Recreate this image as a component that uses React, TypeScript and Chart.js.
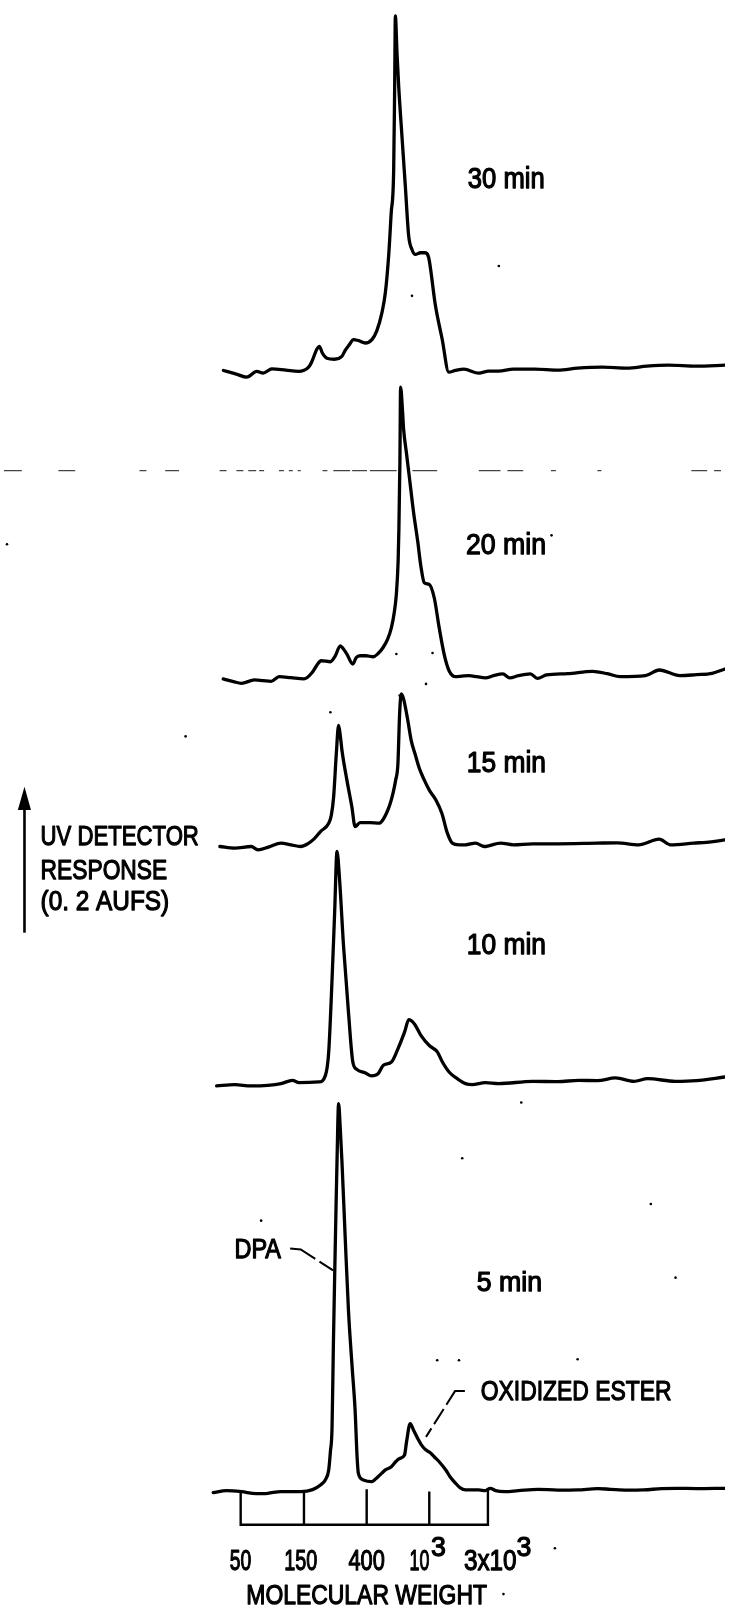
import { useEffect, useRef } from "react";
import { Chart, registerables } from "chart.js";

Chart.register(...registerables);

// Recorder coordinates: x = chart position (elution), y = recorder level (up).
const X_MIN = 0;
const X_MAX = 729;
const Y_MIN = 0;
const Y_MAX = 1616;

// Run times and the baseline level of each trace
const runs = ["30 min", "20 min", "15 min", "10 min", "5 min"];
const runOffsets = [1248, 938, 770, 530, 121];

// Traces: [position, UV detector response above baseline]
const trace30: [number, number][] = [
  [221.9, -0.3], [235, -4], [245.5, -7], [255.7, -1.3], [262, -3], [270.9, 1.3], [285, 0], [297.8, -1.3],
  [308, 3], [311, 8], [316.4, 21.3], [318.8, 24], [322, 17], [326.5, 12], [334, 11], [341.7, 14],
  [345, 20], [348.5, 24.7], [353.5, 30.7], [358.6, 29.7], [365.3, 27.3], [372, 30.7], [377, 39.7],
  [382.2, 58], [385.6, 78], [388.9, 114.7], [391.5, 158], [394, 201.3], [395, 285], [395.7, 356],
  [397.4, 318], [399.1, 284.7], [402.4, 234.7], [405.8, 184.7], [409.2, 134.7], [412.5, 121.3],
  [415.9, 116.3], [421, 118], [426, 118], [429.4, 113], [436.2, 65], [443, 31.3], [449.7, -2],
  [456.4, -0.3], [465, 1], [480, -3], [490, -1], [500, -1], [515, 1], [537, 1], [560, 0], [580, 2],
  [605, 3], [630, 2], [650, 4], [672, 5], [700, 4], [729, 5],
];
const trace20: [number, number][] = [
  [221.7, -0.3], [232, -3], [240, -4.7], [253.3, -1.3], [262, -2], [270, -2.7], [278.3, 2], [290, 1],
  [303.3, -0.3], [311.7, 6.3], [316, 13], [320.7, 18], [330, 17], [335, 23], [340, 33], [343, 30],
  [346.7, 24.7], [352.7, 14.7], [356, 21], [360, 23], [366, 23], [373.3, 22], [378, 25], [383.3, 31.3],
  [388, 40], [391.7, 51.3], [394.5, 66], [396.7, 84.7], [398.5, 118], [399.3, 151.3], [400.3, 218],
  [401, 293], [403, 268], [404, 251.3], [407, 226], [410, 201.3], [414, 168], [418.3, 138],
  [421.5, 113], [425, 96.3], [430, 94.7], [435, 81.3], [440, 51.3], [445, 24.7], [450, 8],
  [456.7, 2], [463, 2.5], [470, 3], [478, 2], [486.7, 0.7], [495, 3], [504.4, 4.7], [511.4, 0.7],
  [520, 3], [532.3, 4.7], [539.3, 0.3], [548.6, 3.7], [570, 5], [595, 7.3], [610, 5], [623, 2],
  [648.5, 3], [662.5, 8.7], [683.4, 3], [700, 4], [716, 5.3], [729, 9.7],
];
const trace15: [number, number][] = [
  [218.3, -0.7], [233.3, -2.3], [250, -0.7], [256.7, -4], [268, -1], [280, 2.7], [290, 1], [300, -0.7],
  [307, 2], [313.3, 6.7], [320, 14.3], [328.3, 22.7], [331, 31], [333.3, 49.3], [336, 92.7],
  [338.3, 121], [340, 111], [341.7, 96], [346.7, 66], [351.7, 39.3], [355, 19.3], [360, 23.3],
  [370, 23.3], [379.3, 22.7], [383, 26], [386.7, 32.7], [390, 41], [393.3, 52.7], [396, 66],
  [398.3, 82.7], [400, 132.7], [401.7, 152.7], [404, 147.7], [408.3, 126], [411.7, 106], [416, 91],
  [420, 77.7], [425, 66], [430, 56], [436.7, 46], [442.7, 32.7], [448.3, 12.7], [453.3, 2.7],
  [460, 1], [466.7, 1], [476.7, 2.7], [485.8, -0.7], [490, 0], [502, 2.7], [515, 1], [534.6, 2],
  [560, 2], [599.7, 2.7], [620, 3], [641.6, 1], [662.5, 6.7], [674.1, 1], [697.3, 2.7], [715, 4], [729, 6],
];
const trace10: [number, number][] = [
  [215, -1.3], [233.3, 0], [250, -1.3], [266.7, -0.7], [280, 1], [291.7, 4.3], [298.3, 2], [318.3, 2.7],
  [325, 9.3], [328.3, 32.7], [331.7, 106], [334.3, 172.7], [336.7, 234.3], [339.3, 206], [343.3, 139.3],
  [348.3, 72.7], [352.7, 22.7], [356.7, 15.3], [365, 12], [371.7, 8.7], [378.3, 11], [383.3, 19.3],
  [391.7, 22.7], [398.3, 36], [405, 52.7], [409.3, 65.3], [415, 61], [421.7, 49.3], [430, 39.3],
  [438.3, 32.7], [443.3, 22.7], [450, 12.7], [458.3, 6], [466.7, 1], [473.3, 0], [486.7, 2], [500, 1],
  [534.6, 3.3], [560, 3], [581.1, 4.3], [600, 4], [618.3, 6.7], [636.9, 3.3], [650.9, 6], [678.8, 3.3],
  [700, 4], [729, 7.7],
];
const trace5: [number, number][] = [
  [211.5, -1], [225, 1], [240, 0], [255, -2], [266.7, -1.7], [280, 0], [300, 0], [312, 2], [320, 6.7],
  [325, 12], [328.3, 21.7], [330, 40], [331.7, 65], [333, 145], [334.3, 215], [335.5, 275],
  [336.7, 331.7], [338.3, 390], [340, 365], [341.7, 331.7], [345, 255], [348.3, 181.7], [352, 125],
  [355, 81.7], [357, 35], [358.3, 18.3], [363.3, 11.7], [371.7, 10], [376, 13], [381.7, 18.3],
  [386, 22], [391.7, 25], [396, 30], [400, 33.3], [405, 36.7], [407, 50], [410.7, 68.3], [414, 62],
  [418.3, 53.3], [422, 47], [426.7, 41.7], [431, 39], [435, 35], [440, 30], [446.7, 21.7], [451, 15],
  [456.7, 8.3], [461, 4], [466.7, 1.7], [480, 1.7], [486.7, 1], [491.7, 3.3], [497, 1], [506.7, 0],
  [520, 1], [540, 2.3], [560, 1.5], [580, 1.7], [600, 3], [613.3, 2.3], [630, 1.5], [646.7, 1.7],
  [665, 3], [680, 3.3], [700, 3], [729, 3.3],
];
const traces = [trace30, trace20, trace15, trace10, trace5];

// Molecular weight calibration scale
const mwTickPos = [239.3, 303.3, 366.7, 430, 489.3];
const mwTickTop = [120, 121, 123.3, 121, 124];
const mwScaleBottom = 87.7;
const mwTickLabels = ["50", "150", "400", "10", "3x10"];
const mwTickSup = ["", "", "", "3", "3"];

// Broken horizontal line across the 20-min record (level and dash extents)
const brokenLineLevel = 1147;
const brokenLineSegs: [number, number][] = [
  [0, 18], [55, 72], [137, 144], [163, 177], [218, 225], [235, 242], [247, 255], [258, 263],
  [278, 283], [288, 292], [297, 300], [322, 327], [333, 350], [352, 367], [370, 397], [413, 438],
  [480, 502], [509, 525], [553, 558], [600, 604], [695, 711], [718, 725],
];

// Leader lines
const dpaLeader: [number, number][] = [[289.3, 365.3], [300, 364.3], [332.7, 343.3]];
const esterLeader: [number, number][] = [[466, 222], [456, 222], [426.7, 176]];

// Response arrow
const arrowShaft: [number, number][] = [[20.7, 682.7], [20.7, 808]];
const arrowHead: [number, number][] = [[14, 806], [20.7, 829.3], [27.3, 806]];

// Specks on the record
const specks: [number, number][] = [
  [396.7, 962.7], [433.3, 963.7], [426.7, 932.7], [400, 921], [412.5, 1322.7], [500.3, 1352.7],
  [183.6, 880], [330, 904.3], [463.3, 456], [260, 393.3], [438, 253], [460, 253], [580, 254],
  [523, 512], [654, 410], [679, 336], [557, 64], [505, 18], [553.6, 1082], [3, 1073],
];

type Label = { text: string; x: number; y: number; w: number; size: number };

function App() {
  const ref = useRef<HTMLCanvasElement>(null);

  useEffect(() => {
    const canvas = ref.current;
    if (!canvas) return;

    const labels: Label[] = [
      { text: runs[0], x: 469, y: 1431, w: 77.7, size: 29 },
      { text: runs[1], x: 467, y: 1063, w: 81, size: 29 },
      { text: runs[2], x: 468, y: 844, w: 80, size: 29 },
      { text: runs[3], x: 468, y: 661, w: 80, size: 29 },
      { text: runs[4], x: 478, y: 323, w: 66, size: 28 },
      { text: "DPA", x: 233, y: 356, w: 47, size: 28 },
      { text: "OXIDIZED ESTER", x: 482, y: 213, w: 193, size: 28 },
      { text: "UV DETECTOR", x: 37, y: 771, w: 160, size: 28 },
      { text: "RESPONSE", x: 37, y: 737, w: 128, size: 28 },
      { text: "(0. 2 AUFS)", x: 37, y: 705, w: 130, size: 28 },
      { text: "MOLECULAR WEIGHT", x: 245, y: 8, w: 243.3, size: 28 },
    ];
    const tickLabelLeft = [228.3, 283.3, 348.3, 410, 465];
    const tickLabelW = [21.7, 33.4, 36.7, 20, 53.3];
    const supLeft = [0, 0, 0, 431.7, 518.3];
    const supW = [0, 0, 0, 15, 15];
    mwTickLabels.forEach((t, i) => {
      labels.push({ text: t, x: tickLabelLeft[i], y: 42, w: tickLabelW[i], size: 29 });
      if (mwTickSup[i]) labels.push({ text: mwTickSup[i], x: supLeft[i], y: 56, w: supW[i], size: 27 });
    });

    const textPlugin = {
      id: "texts",
      afterDraw(chart: any) {
        const ctx = chart.ctx as CanvasRenderingContext2D;
        const xs = chart.scales.x;
        const ys = chart.scales.y;
        ctx.save();
        ctx.fillStyle = "#000";
        ctx.strokeStyle = "#000";
        ctx.lineJoin = "round";
        ctx.textBaseline = "alphabetic";
        ctx.textAlign = "left";
        for (const l of labels) {
          ctx.font = `${l.size}px "Liberation Sans", Arial, sans-serif`;
          const px = xs.getPixelForValue(l.x);
          const py = ys.getPixelForValue(l.y);
          const targetW = xs.getPixelForValue(l.x + l.w) - px;
          const m = ctx.measureText(l.text).width;
          ctx.save();
          ctx.translate(px, py);
          ctx.scale(targetW / m, 1);
          ctx.lineWidth = 1.25;
          ctx.fillText(l.text, 0, 0);
          ctx.strokeText(l.text, 0, 0);
          ctx.restore();
        }
        // arrow head
        ctx.beginPath();
        arrowHead.forEach(([x, y], i) => {
          const px = xs.getPixelForValue(x);
          const py = ys.getPixelForValue(y);
          if (i === 0) ctx.moveTo(px, py);
          else ctx.lineTo(px, py);
        });
        ctx.closePath();
        ctx.fill();
        ctx.restore();
      },
    };

    const line = (pts: [number, number][]) => pts.map(([x, y]) => ({ x, y }));

    const traceSets = traces.map((t, i) => ({
      label: runs[i],
      data: t.map(([x, r]) => ({ x, y: runOffsets[i] + r })),
      borderColor: "#000",
      borderWidth: 3.3,
      pointRadius: 0,
      cubicInterpolationMode: "monotone" as const,
      borderJoinStyle: "round" as const,
      borderCapStyle: "round" as const,
      fill: false,
      order: 1,
    }));

    const brokenData: any[] = [];
    brokenLineSegs.forEach(([a, b], i) => {
      brokenData.push({ x: a, y: brokenLineLevel }, { x: b, y: brokenLineLevel });
      const next = brokenLineSegs[i + 1];
      if (next) brokenData.push({ x: (b + next[0]) / 2, y: null });
    });

    const bracketData: any[] = [
      { x: mwTickPos[0], y: mwTickTop[0] },
      { x: mwTickPos[0], y: mwScaleBottom },
      { x: mwTickPos[4], y: mwScaleBottom },
      { x: mwTickPos[4], y: mwTickTop[4] },
    ];
    for (let i = 1; i < 4; i++) {
      bracketData.push({ x: mwTickPos[i], y: null });
      bracketData.push({ x: mwTickPos[i], y: mwTickTop[i] }, { x: mwTickPos[i], y: mwScaleBottom });
    }

    const chart = new Chart(canvas, {
      type: "line",
      data: {
        datasets: [
          ...traceSets,
          {
            label: "broken line",
            data: brokenData,
            borderColor: "#444",
            borderWidth: 1.2,
            pointRadius: 0,
            spanGaps: false,
            order: 5,
          },
          {
            label: "MW scale",
            data: bracketData,
            borderColor: "#000",
            borderWidth: 2.4,
            pointRadius: 0,
            spanGaps: false,
            order: 2,
          },
          {
            label: "DPA leader",
            data: line(dpaLeader),
            borderColor: "#000",
            borderWidth: 2,
            borderDash: [28, 5],
            pointRadius: 0,
            order: 2,
          },
          {
            label: "ester leader",
            data: line(esterLeader),
            borderColor: "#000",
            borderWidth: 2,
            borderDash: [26, 5, 18, 5],
            pointRadius: 0,
            order: 2,
          },
          {
            label: "arrow",
            data: line(arrowShaft),
            borderColor: "#000",
            borderWidth: 2.6,
            pointRadius: 0,
            order: 2,
          },
          {
            label: "specks",
            data: line(specks),
            showLine: false,
            pointRadius: 1.3,
            pointBorderWidth: 0,
            pointBackgroundColor: "#000",
            borderColor: "#000",
            order: 3,
          },
        ] as any,
      },
      options: {
        animation: false,
        responsive: false,
        devicePixelRatio: 1,
        events: [],
        layout: { padding: 0 },
        plugins: { legend: { display: false }, tooltip: { enabled: false }, title: { display: false } },
        scales: {
          x: { type: "linear", min: X_MIN, max: X_MAX, display: false },
          y: { type: "linear", min: Y_MIN, max: Y_MAX, display: false },
        },
      },
      plugins: [textPlugin],
    });

    return () => chart.destroy();
  }, []);

  return (
    <div style={{ position: "absolute", left: 0, top: 0, width: 729, height: 1616, background: "#fff" }}>
      <canvas ref={ref} width={729} height={1616} style={{ width: 729, height: 1616, display: "block" }} />
    </div>
  );
}

export default App;
